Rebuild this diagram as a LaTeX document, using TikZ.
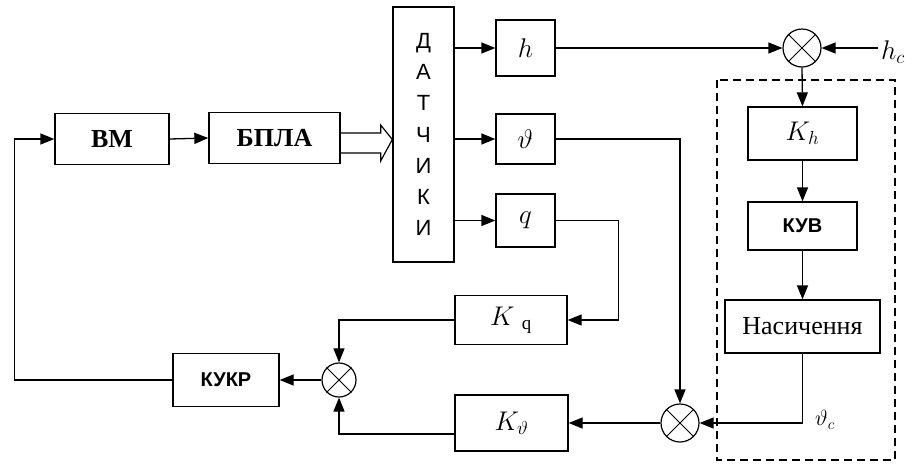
\documentclass[tikz,border=0pt]{standalone}
\usepackage{fix-cm}
\usepackage{fontspec}
\setmainfont{Liberation Serif}
\setsansfont{Liberation Sans}
\usetikzlibrary{arrows.meta,calc}
\begin{document}
\begin{tikzpicture}[x=1pt,y=-1pt,
  blk/.style={draw,line width=1.3pt,inner sep=0pt},
  sumj/.style={draw,circle,line width=1.2pt,minimum size=#1,inner sep=0pt},
  ln/.style={line width=1.3pt},
  arr/.style={ln,-{Triangle[length=14pt,width=11pt]}},
  serifb/.style={font=\fontsize{26}{30}\selectfont\bfseries},
  sansb/.style={font=\fontsize{20}{24}\sffamily\selectfont\bfseries},
  mth/.style={font=\fontsize{27}{31}\selectfont},
]
\useasboundingbox (0,0) rectangle (921,464);

% blocks
\node[blk,serifb,minimum width=114pt,minimum height=51pt] (vm) at (112,139) {ВМ};
\node[blk,serifb,minimum width=131pt,minimum height=51pt] (bpla) at (274.5,138) {БПЛА};
\node[blk,minimum width=61pt,minimum height=255pt,align=center,
      font=\fontsize{22}{31.2}\sffamily\selectfont] (dat) at (423.5,134.5)
      {Д\\А\\Т\\Ч\\И\\К\\И};
\node[blk,mth,minimum width=59pt,minimum height=56pt] (h) at (525.5,48) {$h$};
\node[blk,mth,minimum width=59pt,minimum height=50pt] (th) at (525.5,139) {$\vartheta$};
\node[blk,mth,minimum width=59pt,minimum height=53pt] (q) at (525.5,220.5) {$q$};
\node[blk,mth,minimum width=109pt,minimum height=53pt] (kh) at (802.5,133.5) {$K_{h}$};
\node[blk,sansb,minimum width=109pt,minimum height=48pt] (kuv) at (802.5,226) {КУВ};
\node[blk,minimum width=155pt,minimum height=53pt,font=\fontsize{26}{30}\selectfont] (nas) at (802.5,326.5) {Насичення};
\node[blk,mth,minimum width=112pt,minimum height=49pt] (kq) at (511,320) {$K\;{}_{\mathrm{q}}$};
\node[blk,mth,minimum width=113pt,minimum height=56pt] (kt) at (511.5,423) {$K_{\vartheta}$};
\node[blk,sansb,minimum width=106pt,minimum height=53pt] (kukr) at (226,380) {КУКР};

% summing junctions
\node[sumj=38pt] (s1) at (802,48) {};
\node[sumj=38pt] (s2) at (680,423) {};
\node[sumj=34pt] (s3) at (339,380) {};
\foreach \s in {s1,s2,s3}{
  \draw[line width=1pt] (\s.45) -- (\s.225) (\s.135) -- (\s.315);
}

% labels
\node[mth] (hc) at (893,52) {$h_c$};
\coordinate (hcin) at (878,48);
\node[font=\fontsize{22}{26}\selectfont] (thc) at (825,420) {$\vartheta_c$};

% dashed frame
\draw[line width=1.3pt,dash pattern=on 8pt off 5pt] (717,80) rectangle (895,460);

% connectors
\draw[arr] (vm.east) -- (bpla.west);
\draw[line width=1.2pt,line join=miter]
  ($(bpla.east)+(0,-5)$) -- ++(40,0) -- ++(0,-8) -- ($(dat.west|-bpla.east)+(0,1.5)$)
  -- ($(bpla.east)+(40,23)$) -- ++(0,-8) -- ($(bpla.east)+(0,15)$);
\draw[arr] (dat.east|-h.west) -- (h.west);
\draw[arr] (dat.east|-th.west) -- (th.west);
\draw[arr] (dat.east|-q.west) -- (q.west);

\draw[arr] (h.east) -- (s1.west);
\draw[arr] (hcin) -- (s1.east);
\draw[arr] (s1.south) -- (kh.north);
\draw[arr] (kh.south) -- (kuv.north);
\draw[arr] (kuv.south) -- (nas.north);
\draw[arr] (nas.south) |- (s2.east);

\draw[arr] (th.east) -| (s2.north);
\draw[arr] (s2.west) -- (kt.east);
\draw[arr] (q.east) -- ++(63,0) |- (kq.east);
\draw[arr] (kq.west) -| (s3.north);
\draw[arr] ($(kt.west)+(0,11)$) -| (s3.south);
\draw[arr] (s3.west) -- (kukr.east);
\draw[arr] (kukr.west) -- ++(-158,0) |- (vm.west);
\end{tikzpicture}
\end{document}
